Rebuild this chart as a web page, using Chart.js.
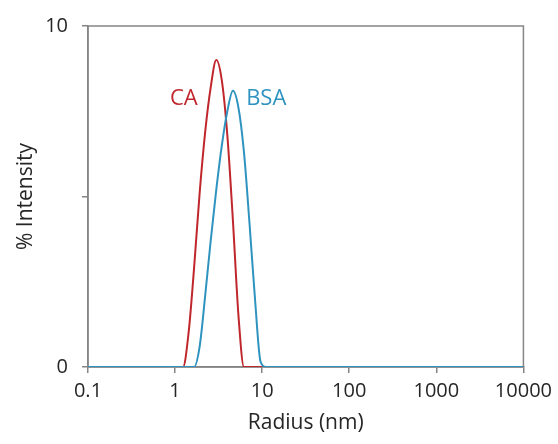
<!DOCTYPE html>
<html>
<head>
<meta charset="utf-8">
<script src="https://cdn.jsdelivr.net/npm/chart.js@4/dist/chart.umd.min.js"></script>
<style>
  html, body { margin: 0; padding: 0; background: #fff; }
  #wrap { width: 558px; height: 444px; }
</style>
</head>
<body>
<div id="wrap"><canvas id="dlschart"></canvas></div>
<script>
// radius bins (nm) - log spaced around the peaks, plus the ends of the axis
var radius = [0.1, 1.233, 1.429, 1.652, 1.914, 2.218, 2.564, 2.972, 3.443, 3.981, 4.613, 5.346, 6.180, 7.161, 8.299, 9.594, 11.12, 10000];
var caIntensity  = [0, 0, 1.0, 2.9, 5.1, 6.9, 8.2, 9.0, 8.4, 6.8, 4.3, 1.5, 0, 0, 0, 0, 0, 0];
var bsaIntensity = [0, 0, 0, 0, 0.6, 2.1, 3.7, 5.2, 6.5, 7.5, 8.1, 7.6, 6.3, 4.2, 1.95, 0.15, 0, 0];
var xTicks = [0.1, 1, 10, 100, 1000, 10000];
var yTicks = [0, 5, 10];
var yLabelled = [0, 10];
// where the series names sit (radius, intensity)
var labelSpots = [
    { text: "CA",  r: 1.82, v: 7.88, align: "right", color: "#c0272d" },
    { text: "BSA", r: 6.55, v: 7.88, align: "left",  color: "#2f93bf" }
];

var FONT = "'Open Sans', 'Noto Sans', sans-serif";
var AXIS_GREY = "#858585";
var TEXT = "#262626";

function toPoints(xs, ys) {
    var pts = [];
    for (var i = 0; i < xs.length; i++) {
        pts.push({ x: xs[i], y: ys[i] });
    }
    return pts;
}

var frame = {
    id: "frame",
    beforeDatasetsDraw: function (chart) {
        var a = chart.chartArea;
        var ctx = chart.ctx;
        ctx.save();
        ctx.strokeStyle = AXIS_GREY;
        ctx.lineWidth = 1.5;
        ctx.strokeRect(a.left, a.top, a.right - a.left, a.bottom - a.top);
        ctx.restore();
    }
};

var seriesNames = {
    id: "seriesNames",
    afterDatasetsDraw: function (chart) {
        var ctx = chart.ctx;
        var xs = chart.scales.x, ys = chart.scales.y;
        ctx.save();
        ctx.font = "22px " + FONT;
        ctx.textBaseline = "middle";
        labelSpots.forEach(function (l) {
            ctx.fillStyle = l.color;
            ctx.textAlign = l.align;
            ctx.fillText(l.text, xs.getPixelForValue(l.r), ys.getPixelForValue(l.v));
        });
        ctx.restore();
    }
};

var ctx = document.getElementById("dlschart").getContext("2d");

var chart = new Chart(ctx, {
    type: "line",
    data: {
        datasets: [{
            label: "BSA",
            data: toPoints(radius, bsaIntensity),
            borderColor: "#2f93bf",
            borderWidth: 2,
            pointRadius: 0,
            cubicInterpolationMode: "monotone",
            fill: false
        }, {
            label: "CA",
            data: toPoints(radius, caIntensity),
            borderColor: "#c0272d",
            borderWidth: 2,
            pointRadius: 0,
            cubicInterpolationMode: "monotone",
            fill: false
        }]
    },
    options: {
        responsive: true,
        maintainAspectRatio: false,
        animation: false,
        layout: { padding: { top: 22, right: 33, left: 0, bottom: 0 } },
        plugins: {
            legend: { display: false },
            tooltip: { enabled: false }
        },
        scales: {
            x: {
                type: "logarithmic",
                min: 0.1,
                max: 10000,
                afterBuildTicks: function (scale) {
                    scale.ticks = xTicks.map(function (v) { return { value: v }; });
                },
                afterFit: function (scale) { scale.height = 77; },
                grid: { drawOnChartArea: false, tickLength: 6, color: AXIS_GREY, lineWidth: 1.5 },
                border: { color: AXIS_GREY, width: 1.5 },
                ticks: {
                    autoSkip: false,
                    maxRotation: 0,
                    padding: 6,
                    color: TEXT,
                    font: { family: FONT, size: 20 },
                    callback: function (v) { return String(v); }
                },
                title: {
                    display: true,
                    text: "Radius (nm)",
                    color: TEXT,
                    font: { family: FONT, size: 21 },
                    padding: { top: 8, bottom: 8 }
                }
            },
            y: {
                min: 0,
                max: 10,
                afterBuildTicks: function (scale) {
                    scale.ticks = yTicks.map(function (v) { return { value: v }; });
                },
                afterFit: function (scale) { scale.width = 88; },
                grid: { drawOnChartArea: false, tickLength: 6, color: AXIS_GREY, lineWidth: 1.5 },
                border: { color: AXIS_GREY, width: 1.5 },
                ticks: {
                    padding: 14,
                    color: TEXT,
                    font: { family: FONT, size: 20 },
                    callback: function (v) { return yLabelled.indexOf(v) >= 0 ? String(v) : ""; }
                },
                title: {
                    display: true,
                    text: "% Intensity",
                    color: TEXT,
                    font: { family: FONT, size: 21 },
                    padding: { top: 13, bottom: 0 }
                }
            }
        }
    },
    plugins: [frame, seriesNames]
});
</script>
</body>
</html>
